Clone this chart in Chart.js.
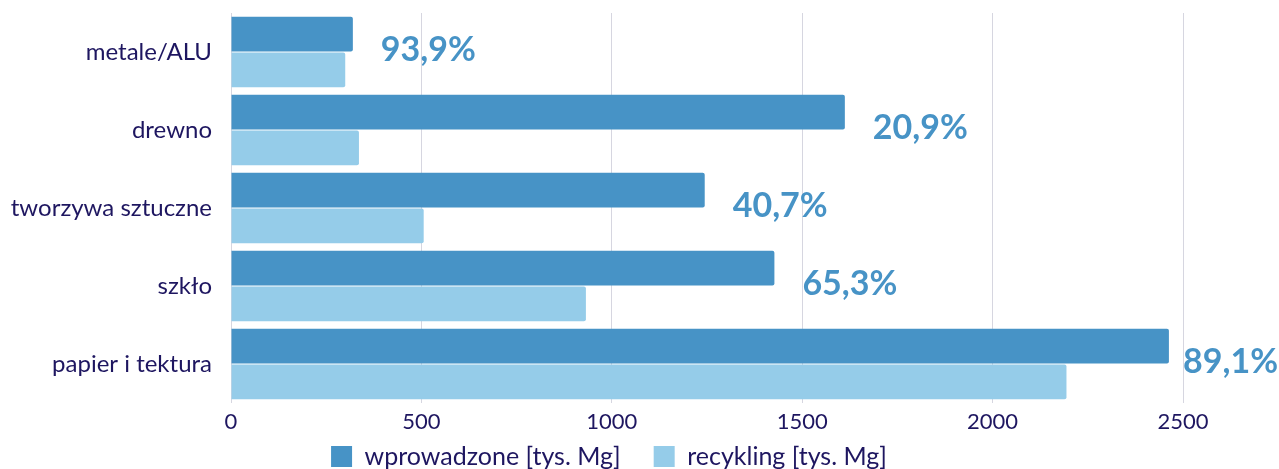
<!DOCTYPE html>
<html><head><meta charset="utf-8">
<script src="https://cdn.jsdelivr.net/npm/chart.js@4"></script>
<style>html,body{margin:0;padding:0;background:#fff}#wrap{width:1279px;height:469px;position:relative}</style>
</head><body><div id="wrap"><canvas id="c"></canvas></div>
<script>
const categories = ['metale/ALU', 'drewno', 'tworzywa sztuczne', 'szkło', 'papier i tektura'];
const wprowadzone = [320, 1612, 1244, 1427, 2463];
const recykling = [300, 336, 506, 932, 2194];
const recyclingRate = [93.9, 20.9, 40.7, 65.3, 89.1];
const xTicks = [0, 500, 1000, 1500, 2000, 2500];
const seriesNames = ['wprowadzone [tys. Mg]', 'recykling [tys. Mg]'];

const TEXT = '#1e1660';
const DARK = '#4793c6';
const LIGHT = '#95cce9';
const GRID = '#d6d6e0';

const rateLabels = {
  id: 'rateLabels',
  afterDatasetsDraw(chart) {
    const {ctx, scales: {x, y}} = chart;
    ctx.save();
    ctx.font = 'bold 34px Lato';
    ctx.fillStyle = DARK;
    ctx.textBaseline = 'middle';
    ctx.textAlign = 'left';
    recyclingRate.forEach((r, i) => {
      const txt = r.toFixed(1).replace('.', ',') + '%';
      const w = ctx.measureText(txt).width;
      const px = Math.min(x.getPixelForValue(Math.max(wprowadzone[i], recykling[i])) + 28, chart.width - w - 1);
      ctx.fillText(txt, px, y.getPixelForValue(i) - 1.5);
    });
    ctx.restore();
  }
};

const legendNudge = {
  id: 'legendNudge',
  afterLayout(chart) {
    const l = chart.legend;
    if (!l) return;
    l.top = 411;
    l.bottom = chart.height;
    l.left += 17.5; l.right += 17.5;
  }
};

function draw() {
  Chart.defaults.font.family = 'Lato';
  Chart.defaults.color = TEXT;
  new Chart(document.getElementById('c'), {
    type: 'bar',
    data: {
      labels: categories,
      datasets: [
        {label: seriesNames[0], data: wprowadzone, backgroundColor: DARK, borderRadius: 2, borderSkipped: 'start',
         barPercentage: 0.97, categoryPercentage: 0.92},
        {label: seriesNames[1], data: recykling, backgroundColor: LIGHT, borderRadius: 2, borderSkipped: 'start',
         barPercentage: 0.97, categoryPercentage: 0.92}
      ]
    },
    options: {
      indexAxis: 'y',
      responsive: true,
      maintainAspectRatio: false,
      animation: false,
      layout: {padding: {top: 13, left: 0, right: 96, bottom: 0}},
      plugins: {
        tooltip: {enabled: false},
        legend: {
          position: 'bottom',
          maxHeight: 38,
          labels: {boxWidth: 21, boxHeight: 21, padding: 33, color: TEXT, font: {size: 25}}
        }
      },
      scales: {
        x: {
          min: 0, max: 2500,
          afterBuildTicks(s) { s.ticks = xTicks.map(v => ({value: v})); },
          afterFit(s) { s.height = 28; },
          ticks: {color: TEXT, font: {size: 22}, padding: 6, maxRotation: 0, callback: v => String(v)},
          grid: {color: GRID, drawTicks: false, lineWidth: 1},
          border: {display: false}
        },
        y: {
          afterFit(s) { s.width = 231; },
          ticks: {color: TEXT, font: {size: 24, lineHeight: 1}, padding: 0},
          grid: {display: false, drawTicks: true, tickLength: 19},
          border: {display: false}
        }
      }
    },
    plugins: [rateLabels, legendNudge]
  });
}
if (document.fonts && document.fonts.load) {
  Promise.all([document.fonts.load('23px Lato'), document.fonts.load('bold 34px Lato')]).then(draw, draw);
} else draw();
</script>
</body></html>
